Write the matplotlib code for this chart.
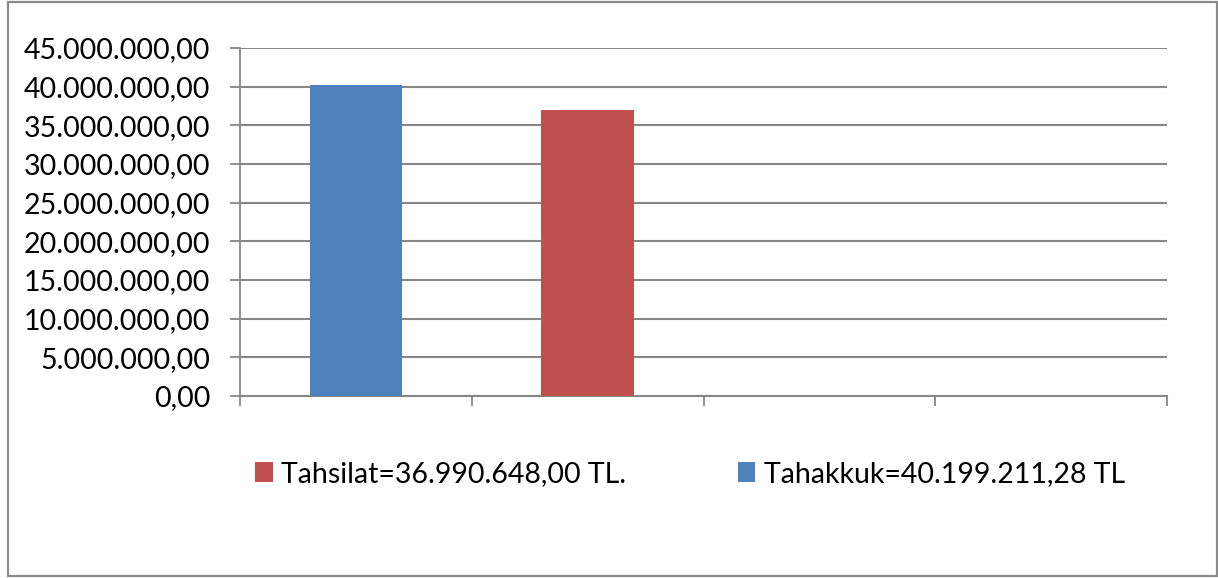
import matplotlib
matplotlib.use("Agg")
import matplotlib.pyplot as plt
from matplotlib.patches import Rectangle, Patch
from matplotlib.ticker import FixedLocator, FuncFormatter

categories = ["1", "2", "3", "4"]
tahakkuk_value = 40199211.28
tahsilat_value = 36990648.00
series_labels = ["Tahsilat=36.990.648,00 TL.", "Tahakkuk=40.199.211,28 TL"]
y_ticks = [0, 5e6, 10e6, 15e6, 20e6, 25e6, 30e6, 35e6, 40e6, 45e6]

BLUE = "#4F81BD"
RED = "#C0504D"
GRID = "#878787"
FS = 20.5

plt.rcParams['font.family'] = ['Lato', 'DejaVu Sans']

W, H = 1218, 578
fig = plt.figure(figsize=(W / 100, H / 100), dpi=100)

# outer border
fig.patches.append(Rectangle((8 / W, 1 - 576 / H), (1216.5 - 8) / W, (576 - 2) / H,
                             transform=fig.transFigure, fill=False,
                             edgecolor="#8a8a8a", linewidth=1.6))

ax = fig.add_axes([240 / W, 1 - 396 / H, (1167 - 240) / W, (396 - 48) / H])
ax.bar([0], [tahakkuk_value], width=0.4, color=BLUE, zorder=3)
ax.bar([1], [tahsilat_value], width=0.4, color=RED, zorder=3)

ax.set_xlim(-0.5, len(categories) - 0.5)
ax.set_ylim(0, 45e6)

def fmt(v, pos):
    s = f"{v:,.2f}"
    return s.replace(",", "X").replace(".", ",").replace("X", ".")

ax.yaxis.set_major_locator(FixedLocator(y_ticks))
ax.yaxis.set_major_formatter(FuncFormatter(fmt))
ax.xaxis.set_major_locator(FixedLocator([i - 0.5 for i in range(len(categories) + 1)]))
ax.set_xticklabels([])

ax.grid(axis="y", color=GRID, linewidth=1.5, zorder=0)
for s in ["top", "right"]:
    ax.spines[s].set_visible(False)
ax.spines["left"].set_color(GRID)
ax.spines["left"].set_linewidth(1.3)
ax.spines["bottom"].set_color(GRID)
ax.spines["bottom"].set_linewidth(1.5)
ax.tick_params(axis="y", length=7, width=1.3, color=GRID, labelsize=FS, pad=14.5, labelcolor="black")
ax.tick_params(axis="x", length=7.5, width=1.3, color=GRID)

handles = [Patch(facecolor=RED), Patch(facecolor=BLUE)]
fig.legend(handles, series_labels, loc="center", bbox_to_anchor=(0.5665, 1 - 474 / H),
           ncol=2, frameon=False, fontsize=FS, handlelength=0.62, handleheight=0.65,
           handletextpad=0.3, columnspacing=3.9)

fig.savefig("out.png", dpi=100)
